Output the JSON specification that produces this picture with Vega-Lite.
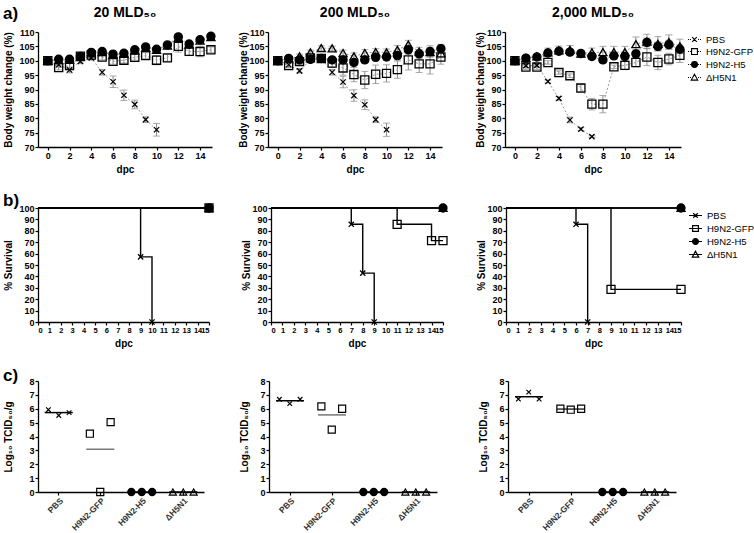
{
  "$schema": "https://vega.github.io/schema/vega-lite/v6.json",
  "padding": {"left": 3, "top": 5, "right": 0, "bottom": 0},
  "config": {
    "font": "Liberation Sans",
    "view": {"stroke": null},
    "title": {"fontSize": 14, "fontWeight": "bold", "color": "black", "offset": 8, "frame": "group"},
    "axis": {"domainColor": "black", "domainWidth": 1.3, "tickColor": "black", "tickWidth": 1.2, "tickSize": 3, "labelFontSize": 9, "labelFontWeight": "bold", "labelColor": "black", "labelPadding": 1, "titleFontSize": 10, "titleFontWeight": "bold", "titleColor": "black", "grid": false},
    "axisY": {"minExtent": 18, "maxExtent": 18, "titlePadding": 2},
    "axisX": {"titlePadding": 4},
    "legend": {"labelFontSize": 9.5, "labelColor": "black", "labelOffset": 4, "rowPadding": 0, "padding": 0, "symbolSize": 169, "title": null}
  },
  "datasets": {
    "wt": [
      {"dose":"20","group":"ΔH5N1","day":0,"w":100,"sd":0},
      {"dose":"20","group":"ΔH5N1","day":1,"w":100.2,"sd":0.7},
      {"dose":"20","group":"ΔH5N1","day":2,"w":100.3,"sd":0.7},
      {"dose":"20","group":"ΔH5N1","day":3,"w":101.3,"sd":0.7},
      {"dose":"20","group":"ΔH5N1","day":4,"w":102.6,"sd":0.7},
      {"dose":"20","group":"ΔH5N1","day":5,"w":103,"sd":0.7},
      {"dose":"20","group":"ΔH5N1","day":6,"w":102,"sd":0.7},
      {"dose":"20","group":"ΔH5N1","day":7,"w":102.4,"sd":0.7},
      {"dose":"20","group":"ΔH5N1","day":8,"w":103.5,"sd":0.7},
      {"dose":"20","group":"ΔH5N1","day":9,"w":104.5,"sd":0.7},
      {"dose":"20","group":"ΔH5N1","day":10,"w":103.8,"sd":0.7},
      {"dose":"20","group":"ΔH5N1","day":11,"w":105.3,"sd":0.7},
      {"dose":"20","group":"ΔH5N1","day":12,"w":108,"sd":0.7},
      {"dose":"20","group":"ΔH5N1","day":13,"w":105.6,"sd":0.7},
      {"dose":"20","group":"ΔH5N1","day":14,"w":107,"sd":0.7},
      {"dose":"20","group":"ΔH5N1","day":15,"w":108.2,"sd":0.7},
      {"dose":"20","group":"H9N2-H5","day":0,"w":100,"sd":0},
      {"dose":"20","group":"H9N2-H5","day":1,"w":100.5,"sd":0.5},
      {"dose":"20","group":"H9N2-H5","day":2,"w":100.5,"sd":0.6},
      {"dose":"20","group":"H9N2-H5","day":3,"w":101.5,"sd":0.6},
      {"dose":"20","group":"H9N2-H5","day":4,"w":102.9,"sd":0.7},
      {"dose":"20","group":"H9N2-H5","day":5,"w":103.2,"sd":0.7},
      {"dose":"20","group":"H9N2-H5","day":6,"w":102.3,"sd":0.8},
      {"dose":"20","group":"H9N2-H5","day":7,"w":102.6,"sd":0.8},
      {"dose":"20","group":"H9N2-H5","day":8,"w":103.8,"sd":0.8},
      {"dose":"20","group":"H9N2-H5","day":9,"w":104.8,"sd":0.8},
      {"dose":"20","group":"H9N2-H5","day":10,"w":104,"sd":0.8},
      {"dose":"20","group":"H9N2-H5","day":11,"w":105.5,"sd":0.8},
      {"dose":"20","group":"H9N2-H5","day":12,"w":108.3,"sd":0.8},
      {"dose":"20","group":"H9N2-H5","day":13,"w":105.8,"sd":0.8},
      {"dose":"20","group":"H9N2-H5","day":14,"w":107.3,"sd":0.8},
      {"dose":"20","group":"H9N2-H5","day":15,"w":108.5,"sd":0.8},
      {"dose":"20","group":"H9N2-GFP","day":0,"w":100,"sd":0},
      {"dose":"20","group":"H9N2-GFP","day":1,"w":97.6,"sd":0.8},
      {"dose":"20","group":"H9N2-GFP","day":2,"w":98.3,"sd":1},
      {"dose":"20","group":"H9N2-GFP","day":3,"w":101.6,"sd":0.8},
      {"dose":"20","group":"H9N2-GFP","day":4,"w":102,"sd":0.8},
      {"dose":"20","group":"H9N2-GFP","day":5,"w":101.3,"sd":1},
      {"dose":"20","group":"H9N2-GFP","day":6,"w":99.8,"sd":1},
      {"dose":"20","group":"H9N2-GFP","day":7,"w":100.2,"sd":1},
      {"dose":"20","group":"H9N2-GFP","day":8,"w":101.2,"sd":1},
      {"dose":"20","group":"H9N2-GFP","day":9,"w":101.8,"sd":1},
      {"dose":"20","group":"H9N2-GFP","day":10,"w":100.2,"sd":1.6},
      {"dose":"20","group":"H9N2-GFP","day":11,"w":101,"sd":1.2},
      {"dose":"20","group":"H9N2-GFP","day":12,"w":105,"sd":2},
      {"dose":"20","group":"H9N2-GFP","day":13,"w":103.3,"sd":1.5},
      {"dose":"20","group":"H9N2-GFP","day":14,"w":103.2,"sd":1.8},
      {"dose":"20","group":"H9N2-GFP","day":15,"w":103.8,"sd":1},
      {"dose":"20","group":"PBS","day":0,"w":100,"sd":0},
      {"dose":"20","group":"PBS","day":1,"w":98.6,"sd":0.8},
      {"dose":"20","group":"PBS","day":2,"w":96.8,"sd":1},
      {"dose":"20","group":"PBS","day":3,"w":99.8,"sd":0.8},
      {"dose":"20","group":"PBS","day":4,"w":101,"sd":0.8},
      {"dose":"20","group":"PBS","day":5,"w":96,"sd":1},
      {"dose":"20","group":"PBS","day":6,"w":92.7,"sd":2},
      {"dose":"20","group":"PBS","day":7,"w":88,"sd":1.8},
      {"dose":"20","group":"PBS","day":8,"w":84.8,"sd":1.5},
      {"dose":"20","group":"PBS","day":9,"w":79.5,"sd":1},
      {"dose":"20","group":"PBS","day":10,"w":76,"sd":2.2},
      {"dose":"200","group":"ΔH5N1","day":0,"w":100,"sd":0},
      {"dose":"200","group":"ΔH5N1","day":1,"w":100.8,"sd":0.6},
      {"dose":"200","group":"ΔH5N1","day":2,"w":101.5,"sd":0.8},
      {"dose":"200","group":"ΔH5N1","day":3,"w":102.9,"sd":0.8},
      {"dose":"200","group":"ΔH5N1","day":4,"w":104.4,"sd":0.8},
      {"dose":"200","group":"ΔH5N1","day":5,"w":104.3,"sd":0.8},
      {"dose":"200","group":"ΔH5N1","day":6,"w":102.7,"sd":1},
      {"dose":"200","group":"ΔH5N1","day":7,"w":101.5,"sd":1.2},
      {"dose":"200","group":"ΔH5N1","day":8,"w":102.7,"sd":1.2},
      {"dose":"200","group":"ΔH5N1","day":9,"w":103,"sd":1.2},
      {"dose":"200","group":"ΔH5N1","day":10,"w":102.9,"sd":1.2},
      {"dose":"200","group":"ΔH5N1","day":11,"w":103.8,"sd":1.5},
      {"dose":"200","group":"ΔH5N1","day":12,"w":105.6,"sd":1.5},
      {"dose":"200","group":"ΔH5N1","day":13,"w":103.2,"sd":1.5},
      {"dose":"200","group":"ΔH5N1","day":14,"w":103,"sd":1.5},
      {"dose":"200","group":"ΔH5N1","day":15,"w":102.6,"sd":1.5},
      {"dose":"200","group":"H9N2-H5","day":0,"w":100,"sd":0},
      {"dose":"200","group":"H9N2-H5","day":1,"w":100.8,"sd":0.6},
      {"dose":"200","group":"H9N2-H5","day":2,"w":100.3,"sd":0.8},
      {"dose":"200","group":"H9N2-H5","day":3,"w":100.5,"sd":0.8},
      {"dose":"200","group":"H9N2-H5","day":4,"w":100.8,"sd":0.8},
      {"dose":"200","group":"H9N2-H5","day":5,"w":100.3,"sd":0.8},
      {"dose":"200","group":"H9N2-H5","day":6,"w":100.3,"sd":1},
      {"dose":"200","group":"H9N2-H5","day":7,"w":99.4,"sd":1},
      {"dose":"200","group":"H9N2-H5","day":8,"w":100.3,"sd":1},
      {"dose":"200","group":"H9N2-H5","day":9,"w":101.2,"sd":1.2},
      {"dose":"200","group":"H9N2-H5","day":10,"w":101.3,"sd":1.2},
      {"dose":"200","group":"H9N2-H5","day":11,"w":101.8,"sd":1.5},
      {"dose":"200","group":"H9N2-H5","day":12,"w":103.8,"sd":1.5},
      {"dose":"200","group":"H9N2-H5","day":13,"w":102.4,"sd":1.5},
      {"dose":"200","group":"H9N2-H5","day":14,"w":103.2,"sd":2},
      {"dose":"200","group":"H9N2-H5","day":15,"w":104.2,"sd":1.5},
      {"dose":"200","group":"H9N2-GFP","day":0,"w":100,"sd":0},
      {"dose":"200","group":"H9N2-GFP","day":1,"w":98.3,"sd":0.8},
      {"dose":"200","group":"H9N2-GFP","day":2,"w":99.7,"sd":1},
      {"dose":"200","group":"H9N2-GFP","day":3,"w":101,"sd":1},
      {"dose":"200","group":"H9N2-GFP","day":4,"w":100.8,"sd":1},
      {"dose":"200","group":"H9N2-GFP","day":5,"w":99.2,"sd":1.5},
      {"dose":"200","group":"H9N2-GFP","day":6,"w":97.5,"sd":2.5},
      {"dose":"200","group":"H9N2-GFP","day":7,"w":95.2,"sd":2.5},
      {"dose":"200","group":"H9N2-GFP","day":8,"w":93.3,"sd":3},
      {"dose":"200","group":"H9N2-GFP","day":9,"w":95.3,"sd":3.2},
      {"dose":"200","group":"H9N2-GFP","day":10,"w":95.6,"sd":3},
      {"dose":"200","group":"H9N2-GFP","day":11,"w":96.9,"sd":3},
      {"dose":"200","group":"H9N2-GFP","day":12,"w":100.3,"sd":3.5},
      {"dose":"200","group":"H9N2-GFP","day":13,"w":98.9,"sd":3},
      {"dose":"200","group":"H9N2-GFP","day":14,"w":98.9,"sd":3.5},
      {"dose":"200","group":"H9N2-GFP","day":15,"w":101.3,"sd":2.5},
      {"dose":"200","group":"PBS","day":0,"w":100,"sd":0},
      {"dose":"200","group":"PBS","day":1,"w":98.6,"sd":0.8},
      {"dose":"200","group":"PBS","day":2,"w":96.5,"sd":0.8},
      {"dose":"200","group":"PBS","day":3,"w":100.3,"sd":0.8},
      {"dose":"200","group":"PBS","day":4,"w":100.8,"sd":0.8},
      {"dose":"200","group":"PBS","day":5,"w":96,"sd":1},
      {"dose":"200","group":"PBS","day":6,"w":92.6,"sd":2},
      {"dose":"200","group":"PBS","day":7,"w":87.9,"sd":2},
      {"dose":"200","group":"PBS","day":8,"w":84.7,"sd":1.7},
      {"dose":"200","group":"PBS","day":9,"w":79.5,"sd":1},
      {"dose":"200","group":"PBS","day":10,"w":76,"sd":2.3},
      {"dose":"2000","group":"ΔH5N1","day":0,"w":100,"sd":0},
      {"dose":"2000","group":"ΔH5N1","day":1,"w":101,"sd":0.8},
      {"dose":"2000","group":"ΔH5N1","day":2,"w":101.5,"sd":0.8},
      {"dose":"2000","group":"ΔH5N1","day":3,"w":102.9,"sd":1.5},
      {"dose":"2000","group":"ΔH5N1","day":4,"w":103.6,"sd":1.5},
      {"dose":"2000","group":"ΔH5N1","day":5,"w":103.8,"sd":1.5},
      {"dose":"2000","group":"ΔH5N1","day":6,"w":102.5,"sd":1.2},
      {"dose":"2000","group":"ΔH5N1","day":7,"w":102.9,"sd":1.5},
      {"dose":"2000","group":"ΔH5N1","day":8,"w":103,"sd":2},
      {"dose":"2000","group":"ΔH5N1","day":9,"w":103,"sd":2},
      {"dose":"2000","group":"ΔH5N1","day":10,"w":103,"sd":2},
      {"dose":"2000","group":"ΔH5N1","day":11,"w":105.8,"sd":2.5},
      {"dose":"2000","group":"ΔH5N1","day":12,"w":106.7,"sd":2.5},
      {"dose":"2000","group":"ΔH5N1","day":13,"w":105.9,"sd":2.5},
      {"dose":"2000","group":"ΔH5N1","day":14,"w":106.5,"sd":2.5},
      {"dose":"2000","group":"ΔH5N1","day":15,"w":105,"sd":2.5},
      {"dose":"2000","group":"H9N2-H5","day":0,"w":100,"sd":0},
      {"dose":"2000","group":"H9N2-H5","day":1,"w":100.9,"sd":0.8},
      {"dose":"2000","group":"H9N2-H5","day":2,"w":101.3,"sd":0.8},
      {"dose":"2000","group":"H9N2-H5","day":3,"w":102.7,"sd":1},
      {"dose":"2000","group":"H9N2-H5","day":4,"w":103.3,"sd":1},
      {"dose":"2000","group":"H9N2-H5","day":5,"w":103,"sd":1},
      {"dose":"2000","group":"H9N2-H5","day":6,"w":102.5,"sd":1},
      {"dose":"2000","group":"H9N2-H5","day":7,"w":101.5,"sd":1},
      {"dose":"2000","group":"H9N2-H5","day":8,"w":100.3,"sd":1},
      {"dose":"2000","group":"H9N2-H5","day":9,"w":101.7,"sd":1.2},
      {"dose":"2000","group":"H9N2-H5","day":10,"w":101.5,"sd":1.2},
      {"dose":"2000","group":"H9N2-H5","day":11,"w":102.4,"sd":1.5},
      {"dose":"2000","group":"H9N2-H5","day":12,"w":106.4,"sd":1.5},
      {"dose":"2000","group":"H9N2-H5","day":13,"w":105,"sd":1.5},
      {"dose":"2000","group":"H9N2-H5","day":14,"w":105.6,"sd":1.5},
      {"dose":"2000","group":"H9N2-H5","day":15,"w":104,"sd":1.5},
      {"dose":"2000","group":"H9N2-GFP","day":0,"w":100,"sd":0},
      {"dose":"2000","group":"H9N2-GFP","day":1,"w":97.8,"sd":0.8},
      {"dose":"2000","group":"H9N2-GFP","day":2,"w":97.8,"sd":0.8},
      {"dose":"2000","group":"H9N2-GFP","day":3,"w":99.4,"sd":0.6},
      {"dose":"2000","group":"H9N2-GFP","day":4,"w":95.9,"sd":0.6},
      {"dose":"2000","group":"H9N2-GFP","day":5,"w":94.8,"sd":0.6},
      {"dose":"2000","group":"H9N2-GFP","day":6,"w":90.5,"sd":1.2},
      {"dose":"2000","group":"H9N2-GFP","day":7,"w":84.9,"sd":2},
      {"dose":"2000","group":"H9N2-GFP","day":8,"w":84.9,"sd":3},
      {"dose":"2000","group":"H9N2-GFP","day":9,"w":97.9,"sd":0.6},
      {"dose":"2000","group":"H9N2-GFP","day":10,"w":98.4,"sd":1.5},
      {"dose":"2000","group":"H9N2-GFP","day":11,"w":99.4,"sd":1.5},
      {"dose":"2000","group":"H9N2-GFP","day":12,"w":101.3,"sd":3},
      {"dose":"2000","group":"H9N2-GFP","day":13,"w":99.4,"sd":2.5},
      {"dose":"2000","group":"H9N2-GFP","day":14,"w":100.6,"sd":2},
      {"dose":"2000","group":"H9N2-GFP","day":15,"w":101.9,"sd":2.5},
      {"dose":"2000","group":"PBS","day":0,"w":100,"sd":0},
      {"dose":"2000","group":"PBS","day":1,"w":98.3,"sd":0.6},
      {"dose":"2000","group":"PBS","day":2,"w":98.4,"sd":0.6},
      {"dose":"2000","group":"PBS","day":3,"w":92.8,"sd":0.5},
      {"dose":"2000","group":"PBS","day":4,"w":86.9,"sd":0.6},
      {"dose":"2000","group":"PBS","day":5,"w":79.4,"sd":1},
      {"dose":"2000","group":"PBS","day":6,"w":76.2,"sd":0.5},
      {"dose":"2000","group":"PBS","day":7,"w":73.6,"sd":0.3}
    ],
    "surv": [
      {"dose":"20","group":"ΔH5N1","day":0,"s":100},
      {"dose":"20","group":"ΔH5N1","day":15,"s":100},
      {"dose":"20","group":"H9N2-GFP","day":0,"s":100},
      {"dose":"20","group":"H9N2-GFP","day":15,"s":100},
      {"dose":"20","group":"H9N2-H5","day":0,"s":100},
      {"dose":"20","group":"H9N2-H5","day":15,"s":100},
      {"dose":"20","group":"PBS","day":0,"s":100},
      {"dose":"20","group":"PBS","day":9,"s":57.1},
      {"dose":"20","group":"PBS","day":10,"s":0},
      {"dose":"200","group":"ΔH5N1","day":0,"s":100},
      {"dose":"200","group":"ΔH5N1","day":15,"s":100},
      {"dose":"200","group":"H9N2-GFP","day":0,"s":100},
      {"dose":"200","group":"H9N2-GFP","day":11,"s":85.7},
      {"dose":"200","group":"H9N2-GFP","day":14,"s":71.4},
      {"dose":"200","group":"H9N2-GFP","day":15,"s":71.4},
      {"dose":"200","group":"H9N2-H5","day":0,"s":100},
      {"dose":"200","group":"H9N2-H5","day":15,"s":100},
      {"dose":"200","group":"PBS","day":0,"s":100},
      {"dose":"200","group":"PBS","day":7,"s":85.7},
      {"dose":"200","group":"PBS","day":8,"s":42.9},
      {"dose":"200","group":"PBS","day":9,"s":0},
      {"dose":"2000","group":"ΔH5N1","day":0,"s":100},
      {"dose":"2000","group":"ΔH5N1","day":15,"s":100},
      {"dose":"2000","group":"H9N2-GFP","day":0,"s":100},
      {"dose":"2000","group":"H9N2-GFP","day":9,"s":28.6},
      {"dose":"2000","group":"H9N2-GFP","day":15,"s":28.6},
      {"dose":"2000","group":"H9N2-H5","day":0,"s":100},
      {"dose":"2000","group":"H9N2-H5","day":15,"s":100},
      {"dose":"2000","group":"PBS","day":0,"s":100},
      {"dose":"2000","group":"PBS","day":6,"s":85.7},
      {"dose":"2000","group":"PBS","day":7,"s":0}
    ],
    "titer": [
      {"dose":"20","group":"PBS","mouse":1,"v":5.93},
      {"dose":"20","group":"PBS","mouse":2,"v":5.52},
      {"dose":"20","group":"PBS","mouse":3,"v":5.72},
      {"dose":"20","group":"H9N2-GFP","mouse":1,"v":4.2},
      {"dose":"20","group":"H9N2-GFP","mouse":2,"v":0},
      {"dose":"20","group":"H9N2-GFP","mouse":3,"v":5.04},
      {"dose":"20","group":"H9N2-H5","mouse":1,"v":0},
      {"dose":"20","group":"H9N2-H5","mouse":2,"v":0},
      {"dose":"20","group":"H9N2-H5","mouse":3,"v":0},
      {"dose":"20","group":"ΔH5N1","mouse":1,"v":0},
      {"dose":"20","group":"ΔH5N1","mouse":2,"v":0},
      {"dose":"20","group":"ΔH5N1","mouse":3,"v":0},
      {"dose":"200","group":"PBS","mouse":1,"v":6.68},
      {"dose":"200","group":"PBS","mouse":2,"v":6.37},
      {"dose":"200","group":"PBS","mouse":3,"v":6.68},
      {"dose":"200","group":"H9N2-GFP","mouse":1,"v":6.17},
      {"dose":"200","group":"H9N2-GFP","mouse":2,"v":4.5},
      {"dose":"200","group":"H9N2-GFP","mouse":3,"v":6.0},
      {"dose":"200","group":"H9N2-H5","mouse":1,"v":0},
      {"dose":"200","group":"H9N2-H5","mouse":2,"v":0},
      {"dose":"200","group":"H9N2-H5","mouse":3,"v":0},
      {"dose":"200","group":"ΔH5N1","mouse":1,"v":0},
      {"dose":"200","group":"ΔH5N1","mouse":2,"v":0},
      {"dose":"200","group":"ΔH5N1","mouse":3,"v":0},
      {"dose":"2000","group":"PBS","mouse":1,"v":6.7},
      {"dose":"2000","group":"PBS","mouse":2,"v":7.2},
      {"dose":"2000","group":"PBS","mouse":3,"v":6.7},
      {"dose":"2000","group":"H9N2-GFP","mouse":1,"v":6.0},
      {"dose":"2000","group":"H9N2-GFP","mouse":2,"v":5.93},
      {"dose":"2000","group":"H9N2-GFP","mouse":3,"v":6.0},
      {"dose":"2000","group":"H9N2-H5","mouse":1,"v":0},
      {"dose":"2000","group":"H9N2-H5","mouse":2,"v":0},
      {"dose":"2000","group":"H9N2-H5","mouse":3,"v":0},
      {"dose":"2000","group":"ΔH5N1","mouse":1,"v":0},
      {"dose":"2000","group":"ΔH5N1","mouse":2,"v":0},
      {"dose":"2000","group":"ΔH5N1","mouse":3,"v":0}
    ]
  },
  "resolve": {"scale": {"shape": "independent", "fill": "independent", "color": "independent"}, "legend": {"shape": "independent", "fill": "independent", "color": "independent"}},
  "spacing": 18,
  "vconcat": [
    {
      "spacing": 18,
      "resolve": {"scale": {"shape": "independent", "fill": "independent"}, "legend": {"shape": "independent", "fill": "independent"}},
      "vconcat": [
        {
          "title": {"text": "a)", "anchor": "start", "frame": "bounds", "fontSize": 17, "fontWeight": "bold", "offset": -17},
          "spacing": 27,
          "resolve": {"scale": {"shape": "independent", "fill": "independent"}, "legend": {"shape": "independent", "fill": "independent"}},
          "hconcat": [
            {
              "spacing": 20,
              "resolve": {"scale": {"shape": "independent", "fill": "independent"}, "legend": {"shape": "independent", "fill": "independent"}},
              "hconcat": [
                {
                  "width": 174, "height": 115,
                  "title": {"text": "20 MLD₅₀"},
                  "data": {"name": "wt"},
                  "transform": [{"filter": "datum.dose === '20'"}],
                  "encoding": {
                    "x": {"field": "day", "type": "quantitative", "scale": {"domain": [-0.9, 15.1], "nice": false, "zero": false}, "axis": {"values": [0, 2, 4, 6, 8, 10, 12, 14], "title": "dpc"}},
                    "y": {"field": "w", "type": "quantitative", "scale": {"domain": [70, 110], "nice": false, "zero": false}, "axis": {"values": [70, 75, 80, 85, 90, 95, 100, 105, 110], "title": "Body weight change (%)", "titlePadding": 7}}
                  },
                  "layer": [
                    {"mark": {"type": "errorbar", "ticks": true, "size": 7, "thickness": 1, "color": "#888"}, "encoding": {"yError": {"field": "sd"}}},
                    {"mark": {"type": "line", "color": "#999", "strokeDash": [2, 2], "strokeWidth": 1}, "encoding": {"detail": {"field": "group"}}},
                    {"mark": {"type": "point", "size": 66, "stroke": "black", "strokeWidth": 1.3, "opacity": 1},
                     "encoding": {
                       "shape": {"field": "group", "type": "nominal", "scale": {"domain": ["PBS", "H9N2-GFP", "H9N2-H5", "ΔH5N1"], "range": ["M-0.65,-0.65L0.65,0.65M-0.65,0.65L0.65,-0.65", "square", "circle", "triangle-up"]}, "legend": null},
                       "fill": {"field": "group", "type": "nominal", "scale": {"domain": ["PBS", "H9N2-GFP", "H9N2-H5", "ΔH5N1"], "range": ["black", "transparent", "black", "transparent"]}, "legend": null}
                     }}
                  ]
                },
                {
                  "width": 174, "height": 115,
                  "title": {"text": "200 MLD₅₀"},
                  "data": {"name": "wt"},
                  "transform": [{"filter": "datum.dose === '200'"}],
                  "encoding": {
                    "x": {"field": "day", "type": "quantitative", "scale": {"domain": [-0.9, 15.1], "nice": false, "zero": false}, "axis": {"values": [0, 2, 4, 6, 8, 10, 12, 14], "title": "dpc"}},
                    "y": {"field": "w", "type": "quantitative", "scale": {"domain": [70, 110], "nice": false, "zero": false}, "axis": {"values": [70, 75, 80, 85, 90, 95, 100, 105, 110], "title": "Body weight change (%)"}}
                  },
                  "layer": [
                    {"mark": {"type": "errorbar", "ticks": true, "size": 7, "thickness": 1, "color": "#888"}, "encoding": {"yError": {"field": "sd"}}},
                    {"mark": {"type": "line", "color": "#999", "strokeDash": [2, 2], "strokeWidth": 1}, "encoding": {"detail": {"field": "group"}}},
                    {"mark": {"type": "point", "size": 66, "stroke": "black", "strokeWidth": 1.3, "opacity": 1},
                     "encoding": {
                       "shape": {"field": "group", "type": "nominal", "scale": {"domain": ["PBS", "H9N2-GFP", "H9N2-H5", "ΔH5N1"], "range": ["M-0.65,-0.65L0.65,0.65M-0.65,0.65L0.65,-0.65", "square", "circle", "triangle-up"]}, "legend": null},
                       "fill": {"field": "group", "type": "nominal", "scale": {"domain": ["PBS", "H9N2-GFP", "H9N2-H5", "ΔH5N1"], "range": ["black", "transparent", "black", "transparent"]}, "legend": null}
                     }}
                  ]
                }
              ]
            },
            {
              "width": 176, "height": 115,
              "title": {"text": "2,000 MLD₅₀"},
              "data": {"name": "wt"},
              "transform": [{"filter": "datum.dose === '2000'"}],
              "encoding": {
                "x": {"field": "day", "type": "quantitative", "scale": {"domain": [-0.9, 15.1], "nice": false, "zero": false}, "axis": {"values": [0, 2, 4, 6, 8, 10, 12, 14], "title": "dpc"}},
                "y": {"field": "w", "type": "quantitative", "scale": {"domain": [70, 110], "nice": false, "zero": false}, "axis": {"values": [70, 75, 80, 85, 90, 95, 100, 105, 110], "title": "Body weight change (%)"}}
              },
              "resolve": {"scale": {"shape": "independent", "fill": "independent"}, "legend": {"shape": "independent", "fill": "independent"}},
              "layer": [
                {"mark": {"type": "errorbar", "ticks": true, "size": 7, "thickness": 1, "color": "#888"}, "encoding": {"yError": {"field": "sd"}}},
                {"mark": {"type": "line", "color": "#999", "strokeDash": [2, 2], "strokeWidth": 1}, "encoding": {"detail": {"field": "group"}}},
                {"mark": {"type": "point", "size": 66, "stroke": "black", "strokeWidth": 1.3, "opacity": 1},
                 "encoding": {
                   "shape": {"field": "group", "type": "nominal", "scale": {"domain": ["PBS", "H9N2-GFP", "H9N2-H5", "ΔH5N1"], "range": ["M-0.65,-0.65L0.65,0.65M-0.65,0.65L0.65,-0.65", "square", "circle", "triangle-up"]}, "legend": null},
                   "fill": {"field": "group", "type": "nominal", "scale": {"domain": ["PBS", "H9N2-GFP", "H9N2-H5", "ΔH5N1"], "range": ["black", "transparent", "black", "transparent"]}, "legend": null}
                 }},
                {"transform": [{"filter": "false"}],
                 "mark": {"type": "point", "size": 169, "stroke": "black", "strokeWidth": 1.1, "opacity": 1},
                 "encoding": {
                   "shape": {"field": "group", "type": "nominal", "scale": {"domain": ["PBS", "H9N2-GFP", "H9N2-H5", "ΔH5N1"], "range": [
                     "M-1,0H-0.85M-0.7,0H-0.55M0.55,0H0.7M0.85,0H1M-0.35,-0.35L0.35,0.35M-0.35,0.35L0.35,-0.35",
                     "M-1,0H-0.85M-0.7,0H-0.55M0.55,0H0.7M0.85,0H1M-0.45,-0.45H0.45V0.45H-0.45Z",
                     "M-1,0H-0.85M-0.7,0H-0.55M0.55,0H0.7M0.85,0H1M0.45,0A0.45,0.45,0,1,1,-0.45,0A0.45,0.45,0,1,1,0.45,0Z",
                     "M-1,0H-0.85M-0.7,0H-0.55M0.55,0H0.7M0.85,0H1M0,-0.5L0.5,0.4H-0.5Z"]},
                     "legend": {"title": null, "offset": 5, "symbolSize": 169, "rowPadding": 0, "symbolStrokeWidth": 1.1}},
                   "fill": {"field": "group", "type": "nominal", "scale": {"domain": ["PBS", "H9N2-GFP", "H9N2-H5", "ΔH5N1"], "range": ["black", "transparent", "black", "transparent"]},
                     "legend": {"title": null, "offset": 5, "symbolSize": 169, "rowPadding": 0, "symbolStrokeWidth": 1.1}}
                 }}
              ]
            }
          ]
        },
        {
          "title": {"text": "b)", "anchor": "start", "frame": "bounds", "fontSize": 17, "fontWeight": "bold", "offset": -9},
          "spacing": 26,
          "resolve": {"scale": {"shape": "independent", "fill": "independent"}, "legend": {"shape": "independent", "fill": "independent"}},
          "hconcat": [
            {
              "spacing": 25,
              "resolve": {"scale": {"shape": "independent", "fill": "independent"}, "legend": {"shape": "independent", "fill": "independent"}},
              "hconcat": [
                {
                  "width": 171, "height": 114,
                  "data": {"name": "surv"},
                  "transform": [{"filter": "datum.dose === '20'"}],
                  "encoding": {
                    "x": {"field": "day", "type": "quantitative", "scale": {"domain": [0, 15], "nice": false}, "axis": {"values": [0,1,2,3,4,5,6,7,8,9,10,11,12,13,14,15], "labelOverlap": false, "labelFontSize": 7.5, "title": "dpc", "titlePadding": 5}},
                    "y": {"field": "s", "type": "quantitative", "scale": {"domain": [0, 100], "nice": false}, "axis": {"values": [0,10,20,30,40,50,60,70,80,90,100], "title": "% Survival", "titlePadding": 7}}
                  },
                  "layer": [
                    {"mark": {"type": "line", "interpolate": "step-after", "color": "black", "strokeWidth": 1.4}, "encoding": {"detail": {"field": "group"}}},
                    {"transform": [{"filter": "datum.day > 0"}],
                     "mark": {"type": "point", "size": 64, "stroke": "black", "strokeWidth": 1.3, "opacity": 1},
                     "encoding": {
                       "shape": {"field": "group", "type": "nominal", "scale": {"domain": ["PBS", "H9N2-GFP", "H9N2-H5", "ΔH5N1"], "range": ["M-0.65,-0.65L0.65,0.65M-0.65,0.65L0.65,-0.65", "square", "circle", "triangle-up"]}, "legend": null},
                       "fill": {"field": "group", "type": "nominal", "scale": {"domain": ["PBS", "H9N2-GFP", "H9N2-H5", "ΔH5N1"], "range": ["black", "transparent", "black", "transparent"]}, "legend": null}
                     }}
                  ]
                },
                {
                  "width": 172, "height": 114,
                  "data": {"name": "surv"},
                  "transform": [{"filter": "datum.dose === '200'"}],
                  "encoding": {
                    "x": {"field": "day", "type": "quantitative", "scale": {"domain": [0, 15], "nice": false}, "axis": {"values": [0,1,2,3,4,5,6,7,8,9,10,11,12,13,14,15], "labelOverlap": false, "labelFontSize": 7.5, "title": "dpc", "titlePadding": 5}},
                    "y": {"field": "s", "type": "quantitative", "scale": {"domain": [0, 100], "nice": false}, "axis": {"values": [0,10,20,30,40,50,60,70,80,90,100], "title": "% Survival"}}
                  },
                  "layer": [
                    {"mark": {"type": "line", "interpolate": "step-after", "color": "black", "strokeWidth": 1.4}, "encoding": {"detail": {"field": "group"}}},
                    {"transform": [{"filter": "datum.day > 0"}],
                     "mark": {"type": "point", "size": 64, "stroke": "black", "strokeWidth": 1.3, "opacity": 1},
                     "encoding": {
                       "shape": {"field": "group", "type": "nominal", "scale": {"domain": ["PBS", "H9N2-GFP", "H9N2-H5", "ΔH5N1"], "range": ["M-0.65,-0.65L0.65,0.65M-0.65,0.65L0.65,-0.65", "square", "circle", "triangle-up"]}, "legend": null},
                       "fill": {"field": "group", "type": "nominal", "scale": {"domain": ["PBS", "H9N2-GFP", "H9N2-H5", "ΔH5N1"], "range": ["black", "transparent", "black", "transparent"]}, "legend": null}
                     }}
                  ]
                }
              ]
            },
            {
              "width": 175, "height": 114,
              "data": {"name": "surv"},
              "transform": [{"filter": "datum.dose === '2000'"}],
              "encoding": {
                "x": {"field": "day", "type": "quantitative", "scale": {"domain": [0, 15], "nice": false}, "axis": {"values": [0,1,2,3,4,5,6,7,8,9,10,11,12,13,14,15], "labelOverlap": false, "labelFontSize": 7.5, "title": "dpc", "titlePadding": 5}},
                "y": {"field": "s", "type": "quantitative", "scale": {"domain": [0, 100], "nice": false}, "axis": {"values": [0,10,20,30,40,50,60,70,80,90,100], "title": "% Survival"}}
              },
              "resolve": {"scale": {"shape": "independent", "fill": "independent"}, "legend": {"shape": "independent", "fill": "independent"}},
              "layer": [
                {"mark": {"type": "line", "interpolate": "step-after", "color": "black", "strokeWidth": 1.4}, "encoding": {"detail": {"field": "group"}}},
                {"transform": [{"filter": "datum.day > 0"}],
                 "mark": {"type": "point", "size": 64, "stroke": "black", "strokeWidth": 1.3, "opacity": 1},
                 "encoding": {
                   "shape": {"field": "group", "type": "nominal", "scale": {"domain": ["PBS", "H9N2-GFP", "H9N2-H5", "ΔH5N1"], "range": ["M-0.65,-0.65L0.65,0.65M-0.65,0.65L0.65,-0.65", "square", "circle", "triangle-up"]}, "legend": null},
                   "fill": {"field": "group", "type": "nominal", "scale": {"domain": ["PBS", "H9N2-GFP", "H9N2-H5", "ΔH5N1"], "range": ["black", "transparent", "black", "transparent"]}, "legend": null}
                 }},
                {"transform": [{"filter": "false"}],
                 "mark": {"type": "point", "size": 169, "stroke": "black", "strokeWidth": 1.2, "opacity": 1},
                 "encoding": {
                   "shape": {"field": "group", "type": "nominal", "scale": {"domain": ["PBS", "H9N2-GFP", "H9N2-H5", "ΔH5N1"], "range": [
                     "M-1,0H1M-0.35,-0.35L0.35,0.35M-0.35,0.35L0.35,-0.35",
                     "M-1,0H1M-0.45,-0.45H0.45V0.45H-0.45Z",
                     "M-1,0H1M0.45,0A0.45,0.45,0,1,1,-0.45,0A0.45,0.45,0,1,1,0.45,0Z",
                     "M-1,0H1M0,-0.5L0.5,0.4H-0.5Z"]},
                     "legend": {"title": null, "offset": 4, "symbolSize": 169, "rowPadding": 0, "symbolStrokeWidth": 1.2}},
                   "fill": {"field": "group", "type": "nominal", "scale": {"domain": ["PBS", "H9N2-GFP", "H9N2-H5", "ΔH5N1"], "range": ["black", "transparent", "black", "transparent"]},
                     "legend": {"title": null, "offset": 4, "symbolSize": 169, "rowPadding": 0, "symbolStrokeWidth": 1.2}}
                 }}
              ]
            }
          ]
        }
      ]
    },
    {
      "title": {"text": "c)", "anchor": "start", "frame": "bounds", "fontSize": 17, "fontWeight": "bold", "offset": -8},
      "spacing": 41,
      "resolve": {"scale": {"shape": "independent", "fill": "independent", "color": "independent"}, "legend": {"shape": "independent", "fill": "independent", "color": "independent"}},
      "hconcat": [
        {
          "spacing": 35,
          "resolve": {"scale": {"shape": "independent", "fill": "independent", "color": "independent"}, "legend": {"shape": "independent", "fill": "independent", "color": "independent"}},
          "hconcat": [
            {
              "width": 166, "height": 111,
              "data": {"name": "titer"},
              "transform": [{"filter": "datum.dose === '20'"}],
              "encoding": {
                "x": {"field": "group", "type": "nominal", "scale": {"type": "band", "domain": ["PBS", "H9N2-GFP", "H9N2-H5", "ΔH5N1"], "paddingInner": 0, "paddingOuter": 0}, "axis": {"title": null, "labelAngle": -45, "labelFontWeight": "bold", "labelFontSize": 8.5, "labelColor": "#333"}}
              },
              "layer": [
                {"mark": {"type": "tick", "size": 28, "thickness": 1.5},
                 "encoding": {
                   "y": {"aggregate": "mean", "field": "v", "type": "quantitative", "scale": {"domain": [0, 8], "nice": false}, "axis": {"values": [0,1,2,3,4,5,6,7,8], "title": "Log₁₀ TCID₅₀/g", "titlePadding": 7}},
                   "color": {"field": "group", "type": "nominal", "scale": {"domain": ["PBS", "H9N2-GFP", "H9N2-H5", "ΔH5N1"], "range": ["black", "#777", "black", "black"]}, "legend": null}
                 }},
                {"mark": {"type": "point", "size": 50, "stroke": "black", "strokeWidth": 1.2, "opacity": 1},
                 "encoding": {
                   "y": {"field": "v", "type": "quantitative", "scale": {"domain": [0, 8], "nice": false}, "axis": {"values": [0,1,2,3,4,5,6,7,8], "title": "Log₁₀ TCID₅₀/g", "titlePadding": 7}},
                   "xOffset": {"field": "mouse", "type": "nominal", "scale": {"type": "point", "padding": 1.6}},
                   "shape": {"field": "group", "type": "nominal", "scale": {"domain": ["PBS", "H9N2-GFP", "H9N2-H5", "ΔH5N1"], "range": ["M-0.65,-0.65L0.65,0.65M-0.65,0.65L0.65,-0.65", "square", "circle", "triangle-up"]}, "legend": null},
                   "fill": {"field": "group", "type": "nominal", "scale": {"domain": ["PBS", "H9N2-GFP", "H9N2-H5", "ΔH5N1"], "range": ["black", "transparent", "black", "transparent"]}, "legend": null}
                 }}
              ]
            },
            {
              "width": 168, "height": 111,
              "data": {"name": "titer"},
              "transform": [{"filter": "datum.dose === '200'"}],
              "encoding": {
                "x": {"field": "group", "type": "nominal", "scale": {"type": "band", "domain": ["PBS", "H9N2-GFP", "H9N2-H5", "ΔH5N1"], "paddingInner": 0, "paddingOuter": 0}, "axis": {"title": null, "labelAngle": -45, "labelFontWeight": "bold", "labelFontSize": 8.5, "labelColor": "#333"}}
              },
              "layer": [
                {"mark": {"type": "tick", "size": 28, "thickness": 1.5},
                 "encoding": {
                   "y": {"aggregate": "mean", "field": "v", "type": "quantitative", "scale": {"domain": [0, 8], "nice": false}, "axis": {"values": [0,1,2,3,4,5,6,7,8], "title": "Log₁₀ TCID₅₀/g"}},
                   "color": {"field": "group", "type": "nominal", "scale": {"domain": ["PBS", "H9N2-GFP", "H9N2-H5", "ΔH5N1"], "range": ["black", "#777", "black", "black"]}, "legend": null}
                 }},
                {"mark": {"type": "point", "size": 50, "stroke": "black", "strokeWidth": 1.2, "opacity": 1},
                 "encoding": {
                   "y": {"field": "v", "type": "quantitative", "scale": {"domain": [0, 8], "nice": false}, "axis": {"values": [0,1,2,3,4,5,6,7,8], "title": "Log₁₀ TCID₅₀/g"}},
                   "xOffset": {"field": "mouse", "type": "nominal", "scale": {"type": "point", "padding": 1.6}},
                   "shape": {"field": "group", "type": "nominal", "scale": {"domain": ["PBS", "H9N2-GFP", "H9N2-H5", "ΔH5N1"], "range": ["M-0.65,-0.65L0.65,0.65M-0.65,0.65L0.65,-0.65", "square", "circle", "triangle-up"]}, "legend": null},
                   "fill": {"field": "group", "type": "nominal", "scale": {"domain": ["PBS", "H9N2-GFP", "H9N2-H5", "ΔH5N1"], "range": ["black", "transparent", "black", "transparent"]}, "legend": null}
                 }}
              ]
            }
          ]
        },
        {
          "width": 168, "height": 111,
          "data": {"name": "titer"},
          "transform": [{"filter": "datum.dose === '2000'"}],
          "encoding": {
            "x": {"field": "group", "type": "nominal", "scale": {"type": "band", "domain": ["PBS", "H9N2-GFP", "H9N2-H5", "ΔH5N1"], "paddingInner": 0, "paddingOuter": 0}, "axis": {"title": null, "labelAngle": -45, "labelFontWeight": "bold", "labelFontSize": 8.5, "labelColor": "#333"}}
          },
          "layer": [
            {"mark": {"type": "tick", "size": 28, "thickness": 1.5},
             "encoding": {
               "y": {"aggregate": "mean", "field": "v", "type": "quantitative", "scale": {"domain": [0, 8], "nice": false}, "axis": {"values": [0,1,2,3,4,5,6,7,8], "title": "Log₁₀ TCID₅₀/g"}},
               "color": {"field": "group", "type": "nominal", "scale": {"domain": ["PBS", "H9N2-GFP", "H9N2-H5", "ΔH5N1"], "range": ["black", "#333", "black", "black"]}, "legend": null}
             }},
            {"mark": {"type": "point", "size": 50, "stroke": "black", "strokeWidth": 1.2, "opacity": 1},
             "encoding": {
               "y": {"field": "v", "type": "quantitative", "scale": {"domain": [0, 8], "nice": false}, "axis": {"values": [0,1,2,3,4,5,6,7,8], "title": "Log₁₀ TCID₅₀/g"}},
               "xOffset": {"field": "mouse", "type": "nominal", "scale": {"type": "point", "padding": 1.6}},
               "shape": {"field": "group", "type": "nominal", "scale": {"domain": ["PBS", "H9N2-GFP", "H9N2-H5", "ΔH5N1"], "range": ["M-0.65,-0.65L0.65,0.65M-0.65,0.65L0.65,-0.65", "square", "circle", "triangle-up"]}, "legend": null},
               "fill": {"field": "group", "type": "nominal", "scale": {"domain": ["PBS", "H9N2-GFP", "H9N2-H5", "ΔH5N1"], "range": ["black", "transparent", "black", "transparent"]}, "legend": null}
             }}
          ]
        }
      ]
    }
  ]
}
